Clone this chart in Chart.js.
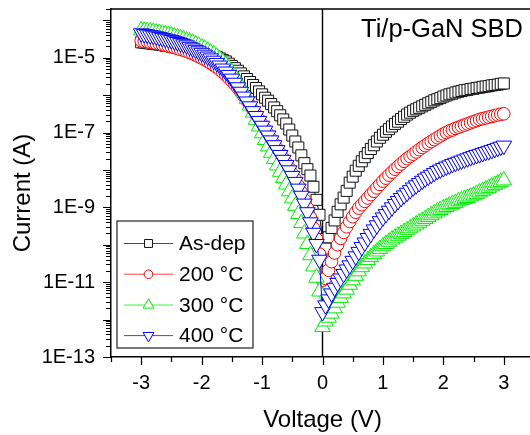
<!DOCTYPE html>
<html>
<head>
<meta charset="utf-8">
<script src="https://cdn.jsdelivr.net/npm/chart.js@4.4.1/dist/chart.umd.min.js"></script>
<style>
  html, body { margin: 0; padding: 0; overflow: hidden; background: #fff; }
  #wrap { position: relative; width: 534px; height: 435px; }
</style>
</head>
<body>
<div id="wrap"><canvas id="iv" width="534" height="435"></canvas></div>
<script>
const FONT = "'Liberation Sans', Arial, sans-serif";

// Bias voltage (V), 50 mV steps
const voltage = [
  -3.00,-2.95,-2.90,-2.85,-2.80,-2.75,-2.70,-2.65,-2.60,-2.55,
  -2.50,-2.45,-2.40,-2.35,-2.30,-2.25,-2.20,-2.15,-2.10,-2.05,
  -2.00,-1.95,-1.90,-1.85,-1.80,-1.75,-1.70,-1.65,-1.60,-1.55,
  -1.50,-1.45,-1.40,-1.35,-1.30,-1.25,-1.20,-1.15,-1.10,-1.05,
  -1.00,-0.95,-0.90,-0.85,-0.80,-0.75,-0.70,-0.65,-0.60,-0.55,
  -0.50,-0.45,-0.40,-0.35,-0.30,-0.25,-0.20,-0.15,-0.10,-0.05,
   0.00,
   0.05, 0.10, 0.15, 0.20, 0.25, 0.30, 0.35, 0.40, 0.45, 0.50,
   0.55, 0.60, 0.65, 0.70, 0.75, 0.80, 0.85, 0.90, 0.95, 1.00,
   1.05, 1.10, 1.15, 1.20, 1.25, 1.30, 1.35, 1.40, 1.45, 1.50,
   1.55, 1.60, 1.65, 1.70, 1.75, 1.80, 1.85, 1.90, 1.95, 2.00,
   2.05, 2.10, 2.15, 2.20, 2.25, 2.30, 2.35, 2.40, 2.45, 2.50,
   2.55, 2.60, 2.65, 2.70, 2.75, 2.80, 2.85, 2.90, 2.95, 3.00
];

// log10 of the measured current (A) for each sample
const asDepLogI = [
  -4.59,-4.60,-4.61,-4.62,-4.63,-4.64,-4.65,-4.66,-4.68,-4.69,
  -4.70,-4.71,-4.73,-4.74,-4.76,-4.77,-4.79,-4.81,-4.83,-4.84,
  -4.86,-4.88,-4.90,-4.92,-4.95,-4.98,-5.02,-5.06,-5.10,-5.16,
  -5.22,-5.28,-5.35,-5.42,-5.50,-5.57,-5.65,-5.73,-5.81,-5.90,
  -5.98,-6.07,-6.15,-6.24,-6.33,-6.43,-6.54,-6.65,-6.76,-6.92,
  -7.08,-7.24,-7.40,-7.61,-7.82,-7.98,-8.15,-8.45,-8.80,-9.20,
  -9.85,
  -10.10,-9.80,-9.55,-9.35,-9.12,-8.92,-8.74,-8.56,-8.34,-8.18,
  -8.02,-7.89,-7.77,-7.66,-7.55,-7.44,-7.34,-7.24,-7.14,-7.06,
  -6.98,-6.91,-6.84,-6.77,-6.71,-6.64,-6.58,-6.52,-6.47,-6.42,
  -6.38,-6.34,-6.30,-6.26,-6.22,-6.18,-6.14,-6.11,-6.08,-6.04,
  -6.01,-5.98,-5.96,-5.93,-5.91,-5.89,-5.87,-5.86,-5.84,-5.83,
  -5.81,-5.80,-5.78,-5.77,-5.76,-5.74,-5.73,-5.72,-5.70,-5.69
];

const anneal200LogI = [
  -4.55,-4.56,-4.57,-4.59,-4.60,-4.62,-4.63,-4.65,-4.67,-4.69,
  -4.71,-4.73,-4.75,-4.78,-4.80,-4.83,-4.86,-4.89,-4.93,-4.97,
  -5.01,-5.05,-5.10,-5.15,-5.20,-5.26,-5.32,-5.39,-5.46,-5.54,
  -5.62,-5.71,-5.81,-5.92,-6.03,-6.15,-6.27,-6.40,-6.52,-6.65,
  -6.78,-6.91,-7.04,-7.17,-7.30,-7.43,-7.56,-7.69,-7.82,-7.96,
  -8.10,-8.25,-8.42,-8.60,-8.80,-9.02,-9.27,-9.55,-9.85,-10.25,
  -10.95,
  -10.90,-10.68,-10.45,-10.22,-10.00,-9.83,-9.67,-9.52,-9.38,-9.25,
  -9.13,-9.02,-8.93,-8.84,-8.75,-8.66,-8.57,-8.48,-8.39,-8.30,
  -8.22,-8.14,-8.06,-7.98,-7.91,-7.84,-7.77,-7.70,-7.64,-7.58,
  -7.52,-7.46,-7.40,-7.35,-7.29,-7.24,-7.19,-7.14,-7.09,-7.04,
  -7.00,-6.96,-6.93,-6.89,-6.86,-6.83,-6.80,-6.77,-6.74,-6.71,
  -6.68,-6.65,-6.63,-6.61,-6.59,-6.57,-6.55,-6.53,-6.51,-6.50
];

const anneal300LogI = [
  -4.27,-4.28,-4.29,-4.30,-4.31,-4.33,-4.34,-4.36,-4.37,-4.39,
  -4.41,-4.43,-4.46,-4.48,-4.51,-4.54,-4.57,-4.60,-4.64,-4.68,
  -4.72,-4.76,-4.81,-4.86,-4.91,-4.97,-5.04,-5.12,-5.20,-5.29,
  -5.39,-5.50,-5.62,-5.77,-5.93,-6.10,-6.28,-6.47,-6.66,-6.84,
  -7.02,-7.20,-7.37,-7.54,-7.71,-7.88,-8.05,-8.22,-8.39,-8.57,
  -8.76,-8.96,-9.18,-9.42,-9.70,-9.98,-10.28,-10.58,-10.88,-11.25,
  -12.20,
  -12.05,-11.95,-11.84,-11.70,-11.55,-11.42,-11.30,-11.20,-11.07,-10.95,
  -10.83,-10.71,-10.60,-10.50,-10.41,-10.33,-10.25,-10.18,-10.11,-10.04,
  -9.98,-9.92,-9.86,-9.81,-9.76,-9.71,-9.66,-9.61,-9.56,-9.51,
  -9.46,-9.41,-9.36,-9.31,-9.26,-9.21,-9.16,-9.11,-9.07,-9.03,
  -8.99,-8.95,-8.91,-8.88,-8.84,-8.81,-8.78,-8.75,-8.71,-8.68,
  -8.64,-8.60,-8.56,-8.52,-8.48,-8.44,-8.40,-8.36,-8.32,-8.28
];

const anneal400LogI = [
  -4.35,-4.37,-4.38,-4.40,-4.41,-4.43,-4.45,-4.47,-4.49,-4.51,
  -4.53,-4.56,-4.58,-4.61,-4.64,-4.67,-4.71,-4.75,-4.79,-4.83,
  -4.87,-4.92,-4.97,-5.02,-5.08,-5.14,-5.21,-5.29,-5.37,-5.46,
  -5.56,-5.67,-5.79,-5.91,-6.04,-6.17,-6.30,-6.43,-6.56,-6.69,
  -6.82,-6.95,-7.08,-7.21,-7.34,-7.47,-7.60,-7.73,-7.87,-8.01,
  -8.16,-8.32,-8.50,-8.69,-8.90,-9.13,-9.40,-9.68,-9.98,-10.40,
  -11.80,
  -11.62,-11.46,-11.30,-11.15,-11.02,-10.90,-10.78,-10.66,-10.55,-10.43,
  -10.31,-10.19,-10.06,-9.94,-9.82,-9.71,-9.59,-9.48,-9.37,-9.27,
  -9.18,-9.09,-9.00,-8.91,-8.83,-8.75,-8.68,-8.61,-8.54,-8.47,
  -8.41,-8.35,-8.29,-8.23,-8.18,-8.13,-8.08,-8.03,-7.99,-7.95,
  -7.91,-7.88,-7.84,-7.81,-7.78,-7.75,-7.72,-7.69,-7.66,-7.63,
  -7.60,-7.58,-7.55,-7.52,-7.50,-7.47,-7.44,-7.41,-7.38,-7.35
];

const seriesNames  = ['As-dep', '200 \u00B0C', '300 \u00B0C', '400 \u00B0C'];
const seriesLogI   = [asDepLogI, anneal200LogI, anneal300LogI, anneal400LogI];
const seriesColors = ['#111111', '#ff0000', '#00ee00', '#0000ff'];

const xTickValues = [-3, -2, -1, 0, 1, 2, 3];
const xTickLabels = ['-3', '-2', '-1', '0', '1', '2', '3'];
const yTickValues = [1e-13, 1e-11, 1e-9, 1e-7, 1e-5];
const yTickLabels = ['1E-13', '1E-11', '1E-9', '1E-7', '1E-5'];

const plotTitle = 'Ti/p-GaN SBD';
const xTitle = 'Voltage (V)';
const yTitle = 'Current (A)';

// marker shapes: square, circle, up triangle, down triangle
const markerStyles = [
  { pointStyle: 'rect',     radius: 7.8, rotation: 0,   legendRadius: 5.6 },
  { pointStyle: 'circle',   radius: 6.3, rotation: 0,   legendRadius: 4.3 },
  { pointStyle: 'triangle', radius: 9.0, rotation: 0,   legendRadius: 6.3 },
  { pointStyle: 'triangle', radius: 9.0, rotation: 180, legendRadius: 6.3 }
];

const datasets = seriesLogI.map((logs, k) => ({
  label: seriesNames[k],
  data: voltage.map((v, i) => ({ x: v, y: Math.pow(10, logs[i]) })),
  borderColor: seriesColors[k],
  borderWidth: 1,
  tension: 0,
  pointStyle: markerStyles[k].pointStyle,
  pointRadius: markerStyles[k].radius,
  pointRotation: markerStyles[k].rotation,
  pointBorderColor: seriesColors[k],
  pointBackgroundColor: '#ffffff',
  pointBorderWidth: 1,
  order: 4 - k
}));

// frame, zero-bias line, tick marks, titles and the boxed legend
const decorations = {
  id: 'decorations',
  beforeDatasetsDraw(chart) {
    const { ctx, chartArea: a, scales: { x } } = chart;
    const x0 = x.getPixelForValue(0);
    ctx.save();
    ctx.strokeStyle = '#000';
    ctx.lineWidth = 1.4;
    ctx.beginPath();
    ctx.moveTo(x0, a.top);
    ctx.lineTo(x0, a.bottom);
    ctx.stroke();
    ctx.restore();
  },
  afterDatasetsDraw(chart) {
    const { ctx } = chart;
    const box = { left: 117, top: 221, width: 136, height: 127 };
    const rows = [243.5, 274.2, 305, 335.6];
    ctx.save();
    ctx.fillStyle = '#fff';
    ctx.fillRect(box.left, box.top, box.width, box.height);
    ctx.strokeStyle = '#222';
    ctx.lineWidth = 1.2;
    ctx.strokeRect(box.left, box.top, box.width, box.height);
    chart.data.datasets.forEach((ds, k) => {
      const yy = rows[k];
      ctx.strokeStyle = ds.borderColor;
      ctx.globalAlpha = 0.75;
      ctx.lineWidth = 1;
      ctx.beginPath();
      ctx.moveTo(124, yy);
      ctx.lineTo(173, yy);
      ctx.stroke();
      ctx.globalAlpha = 1;
      ctx.fillStyle = '#fff';
      ctx.strokeStyle = ds.borderColor;
      Chart.helpers.drawPoint(ctx, {
        pointStyle: markerStyles[k].pointStyle,
        rotation: markerStyles[k].rotation,
        radius: markerStyles[k].legendRadius,
        borderWidth: 1
      }, 148.5, yy);
      ctx.fillStyle = '#000';
      ctx.font = '21px ' + FONT;
      ctx.textAlign = 'left';
      ctx.textBaseline = 'middle';
      ctx.fillText(ds.label, 179, yy + 1);
    });
    ctx.restore();
  },
  afterDraw(chart) {
    const { ctx, chartArea: a, scales: { x, y } } = chart;
    ctx.save();
    ctx.strokeStyle = '#000';
    // top and right frame edges
    ctx.lineWidth = 1.5;
    ctx.beginPath();
    ctx.moveTo(a.left, a.top);
    ctx.lineTo(a.right, a.top);
    ctx.lineTo(a.right, a.bottom);
    ctx.stroke();
    // y tick marks: every decade long, 2..9 short
    ctx.lineWidth = 1.2;
    ctx.beginPath();
    for (let n = -13; n <= -4; n++) {
      for (let m = 1; m <= 9; m++) {
        const v = m * Math.pow(10, n);
        if (v > y.max * 1.0001) break;
        const py = Math.round(y.getPixelForValue(v)) + 0.5;
        const len = m === 1 ? 8 : 5;
        ctx.moveTo(a.left - len, py);
        ctx.lineTo(a.left, py);
      }
    }
    // x tick marks: integers long, halves short
    for (let t = -3.5; t <= 3.5; t += 0.5) {
      const px = Math.round(x.getPixelForValue(t)) + 0.5;
      const len = Number.isInteger(t) ? 8 : 5;
      ctx.moveTo(px, a.bottom);
      ctx.lineTo(px, a.bottom + len);
    }
    ctx.stroke();
    // plot title inside the frame
    ctx.fillStyle = '#000';
    ctx.font = '25.5px ' + FONT;
    ctx.textAlign = 'right';
    ctx.textBaseline = 'alphabetic';
    ctx.fillText(plotTitle, 523, 37);
    // y axis title
    ctx.font = '24px ' + FONT;
    ctx.translate(23, 193);
    ctx.rotate(-Math.PI / 2);
    ctx.textAlign = 'center';
    ctx.textBaseline = 'middle';
    ctx.fillText(yTitle, 0, 0);
    ctx.restore();
  }
};

new Chart(document.getElementById('iv'), {
  type: 'line',
  data: { datasets },
  options: {
    responsive: false,
    devicePixelRatio: 1,
    animation: false,
    events: [],
    layout: { autoPadding: false, padding: { top: 9, right: 0, bottom: 0, left: 0 } },
    plugins: { legend: { display: false }, tooltip: { enabled: false }, title: { display: false } },
    scales: {
      x: {
        type: 'linear',
        position: 'bottom',
        min: -3.5,
        max: 3.5,
        afterBuildTicks: s => { s.ticks = xTickValues.map(v => ({ value: v })); },
        afterFit: s => { s.height = 78; s.paddingLeft = 0; s.paddingRight = 0; },
        grid: { display: false, drawTicks: false },
        border: { display: true, color: '#000', width: 1.5 },
        ticks: {
          font: { family: FONT, size: 20 },
          color: '#000',
          padding: 14,
          maxRotation: 0,
          autoSkip: false,
          callback: (v, i) => xTickLabels[i]
        },
        title: {
          display: true,
          text: xTitle,
          color: '#000',
          font: { family: FONT, size: 24 },
          padding: { top: 0, bottom: 0 }
        }
      },
      y: {
        type: 'logarithmic',
        position: 'left',
        min: 1e-13,
        max: 2e-4,
        afterBuildTicks: s => { s.ticks = yTickValues.map(v => ({ value: v })); },
        afterFit: s => { s.width = 111; s.paddingTop = 0; s.paddingBottom = 0; },
        grid: { display: false, drawTicks: false },
        border: { display: true, color: '#000', width: 1.5 },
        ticks: {
          font: { family: FONT, size: 20 },
          color: '#000',
          padding: 16,
          autoSkip: false,
          callback: (v, i) => yTickLabels[i]
        }
      }
    }
  },
  plugins: [decorations]
});
</script>
</body>
</html>
